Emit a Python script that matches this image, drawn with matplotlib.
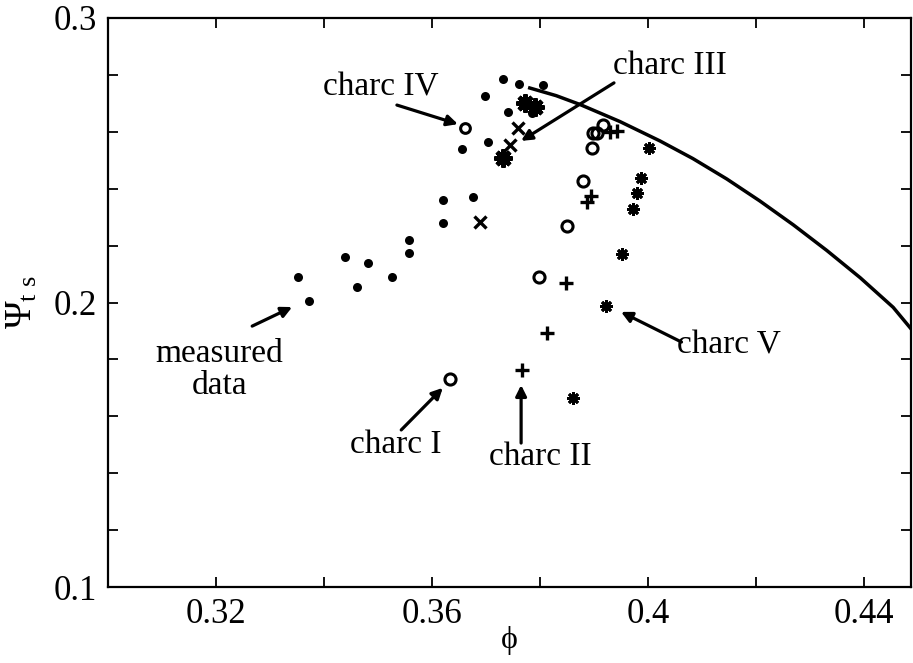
import numpy as np
import matplotlib
matplotlib.use("Agg")
import matplotlib.pyplot as plt
from matplotlib.ticker import FixedLocator, FixedFormatter

plt.rcParams['font.family'] = ['Liberation Serif', 'DejaVu Serif']
plt.rcParams['mathtext.fontset'] = 'custom'
plt.rcParams['mathtext.rm'] = 'Liberation Serif'
plt.rcParams['mathtext.it'] = 'Liberation Serif'

# measured data (filled dots)
meas_phi = [0.3731, 0.3761, 0.3806, 0.3698, 0.3741, 0.3704, 0.3656, 0.3676,
            0.3620, 0.3620, 0.3557, 0.3557, 0.3526, 0.3481, 0.3461, 0.3439,
            0.3372, 0.3352, 0.3785]
meas_psi = [0.2786, 0.2768, 0.2765, 0.2726, 0.2670, 0.2564, 0.2540, 0.2371,
            0.2360, 0.2279, 0.2220, 0.2174, 0.2090, 0.2139, 0.2055, 0.2160,
            0.2005, 0.2090, 0.2666]

# charc I (open circles)
c1_phi = [0.3633, 0.3798, 0.3850, 0.3880, 0.3896, 0.3898, 0.3906, 0.3917]
c1_psi = [0.1731, 0.2090, 0.2269, 0.2427, 0.2543, 0.2596, 0.2596, 0.2624]

# charc II (plus)
c2_phi = [0.3767, 0.3813, 0.3848, 0.3887, 0.3894, 0.3930, 0.3943]
c2_psi = [0.1763, 0.1893, 0.2069, 0.2353, 0.2374, 0.2599, 0.2603]

# charc III (cross)
c3_phi = [0.3759, 0.3744, 0.3689]
c3_psi = [0.2613, 0.2554, 0.2283]

# charc IV (small circle)
c4_phi = [0.3661]
c4_psi = [0.2613]

# charc V (asterisk)
c5_phi = [0.3861, 0.3922, 0.3952, 0.3972, 0.3980, 0.3987, 0.4002]
c5_psi = [0.1664, 0.1988, 0.2171, 0.2329, 0.2385, 0.2438, 0.2543]

# overlapping points drawn as heavy stars
star_phi = [0.3772, 0.3790, 0.3731]
star_psi = [0.2701, 0.2687, 0.2508]

# model characteristic (solid curve)
curve_phi = [0.3781, 0.3830, 0.3874, 0.3948, 0.4022, 0.4083, 0.4146, 0.4207,
             0.4269, 0.4331, 0.4393, 0.4454, 0.4489]
curve_psi = [0.2754, 0.2727, 0.2696, 0.2636, 0.2568, 0.2506, 0.2434, 0.2357,
             0.2273, 0.2183, 0.2087, 0.1983, 0.1903]

fig = plt.figure(figsize=(9.13, 6.63), dpi=100)
ax = fig.add_axes([108/913, 76/663, 803/913, 569/663])

ax.plot(curve_phi, curve_psi, 'k-', lw=2.5)
ax.plot(meas_phi, meas_psi, 'ko', ms=6.5, mew=0)
ax.plot(c1_phi, c1_psi, 'o', mfc='none', mec='k', ms=8, mew=2.2)
ax.plot(c2_phi, c2_psi, 'k+', ms=10, mew=2.4)
ax.plot(c3_phi, c3_psi, 'kx', ms=9, mew=2.4)
ax.plot(c4_phi, c4_psi, 'o', mfc='none', mec='k', ms=7, mew=2.2)
ax.plot(c5_phi, c5_psi, marker=(8, 2, 0), ls='none', color='k', ms=9, mew=2)
ax.plot(star_phi, star_psi, marker=(8, 2, 0), ls='none', color='k', ms=13, mew=3.2)

ax.set_xlim(0.30, 0.4487)
ax.set_ylim(0.1, 0.3)

xt = [0.30, 0.32, 0.34, 0.36, 0.38, 0.40, 0.42, 0.44]
xl = ['', '0.32', '', '0.36', '', '0.4', '', '0.44']
yt = [0.10, 0.12, 0.14, 0.16, 0.18, 0.20, 0.22, 0.24, 0.26, 0.28, 0.30]
yl = ['0.1', '', '', '', '', '0.2', '', '', '', '', '0.3']
ax.xaxis.set_major_locator(FixedLocator(xt))
ax.xaxis.set_major_formatter(FixedFormatter(xl))
ax.yaxis.set_major_locator(FixedLocator(yt))
ax.yaxis.set_major_formatter(FixedFormatter(yl))
ax.tick_params(direction='in', length=7, width=1.3, top=True, right=True,
               labelsize=25, pad=8)
for s in ax.spines.values():
    s.set_linewidth(1.6)

ax.set_xlabel('ϕ', fontsize=23, labelpad=-4)
ax.set_ylabel(r'$\Psi_{\mathrm{t\ s}}$', fontsize=27, labelpad=10)

arrow = dict(arrowstyle='-|>', color='k', lw=2.3, mutation_scale=16,
             shrinkA=0, shrinkB=0)
fs = 24

ax.text(0.3506, 0.2758, 'charc IV', fontsize=fs, ha='center', va='center')
ax.annotate('', xy=(0.3648, 0.2627), xytext=(0.3535, 0.2694), arrowprops=arrow)

ax.text(0.4041, 0.2831, 'charc III', fontsize=fs, ha='center', va='center')
ax.annotate('', xy=(0.3765, 0.2568), xytext=(0.3937, 0.2772), arrowprops=arrow)

ax.text(0.3206, 0.1763, 'measured\ndata', fontsize=fs, ha='center', va='center',
        linespacing=1.05)
ax.annotate('', xy=(0.3341, 0.1984), xytext=(0.3267, 0.1917), arrowprops=arrow)

ax.text(0.3532, 0.1499, 'charc I', fontsize=fs, ha='center', va='center')
ax.annotate('', xy=(0.3620, 0.1700), xytext=(0.3543, 0.1552), arrowprops=arrow)

ax.text(0.3800, 0.1457, 'charc II', fontsize=fs, ha='center', va='center')
ax.annotate('', xy=(0.3765, 0.1710), xytext=(0.3765, 0.1506), arrowprops=arrow)

ax.text(0.4150, 0.1851, 'charc V', fontsize=fs, ha='center', va='center')
ax.annotate('', xy=(0.3950, 0.1967), xytext=(0.4062, 0.1861), arrowprops=arrow)

fig.savefig('out.png', dpi=100)
